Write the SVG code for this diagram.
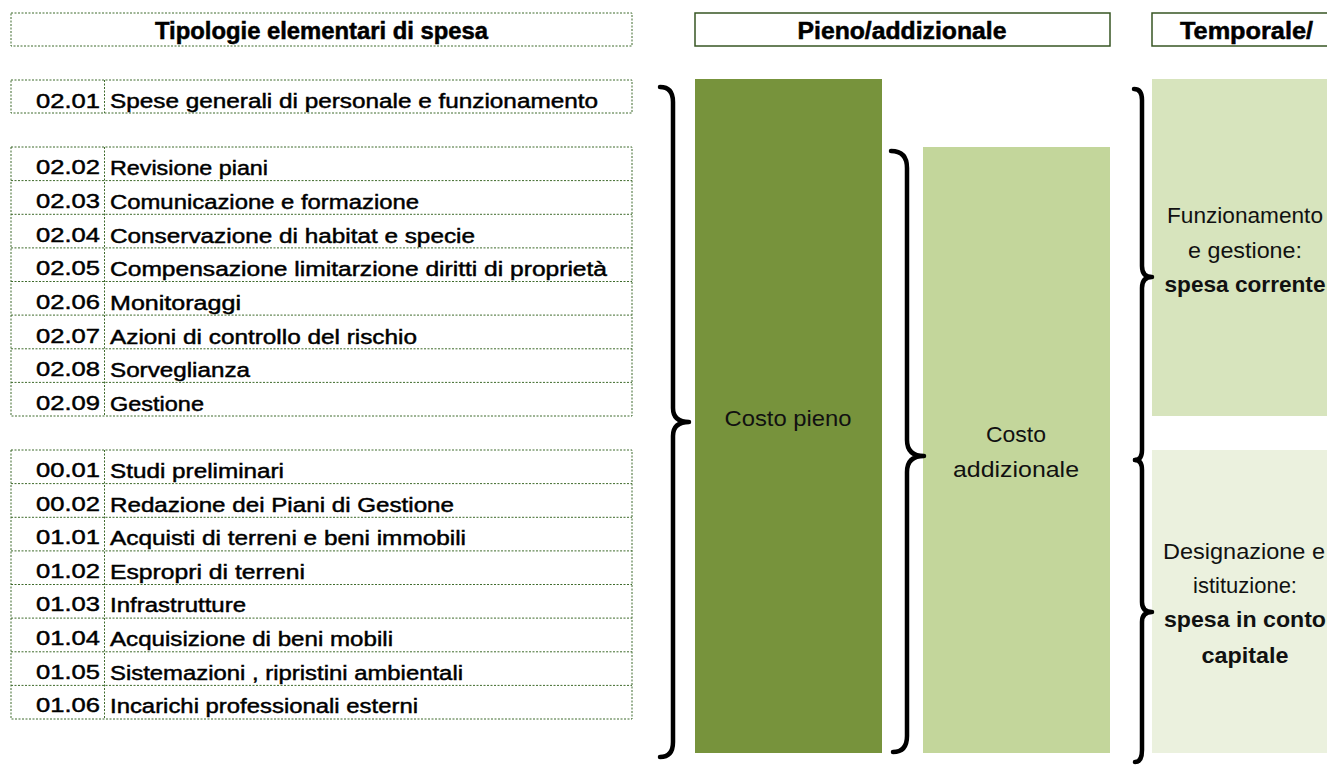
<svg xmlns="http://www.w3.org/2000/svg" width="1327" height="779" viewBox="0 0 1327 779">
<style>
.cell{fill:none;stroke:#3f6b2c;stroke-width:1;stroke-dasharray:2 1.5}
.hdr{fill:#fff;stroke:#375623;stroke-width:1.5}
.ht{font-family:"Liberation Sans",Arial,sans-serif;font-weight:bold;font-size:23px;fill:#000;stroke:#000;stroke-width:0.5;text-anchor:middle}
.num{font-family:"Liberation Sans",Arial,sans-serif;font-size:21px;fill:#000;stroke:#000;stroke-width:0.45;text-anchor:end}
.item{font-family:"Liberation Sans",Arial,sans-serif;font-size:20px;fill:#000;stroke:#000;stroke-width:0.45}
.bt{font-family:"Liberation Sans",Arial,sans-serif;font-size:22px;fill:#111;text-anchor:middle}
.bb{font-family:"Liberation Sans",Arial,sans-serif;font-size:22px;font-weight:bold;fill:#111;text-anchor:middle}
.brace{fill:none;stroke:#000;stroke-width:4.5;stroke-linecap:round;stroke-linejoin:round}
</style>
<rect width="1327" height="779" fill="#fff"/>

<g id="header-tipologie">
<rect class="cell" x="11" y="13" width="621" height="33"/>
<text class="ht" x="321.5" y="39" textLength="333" lengthAdjust="spacingAndGlyphs">Tipologie elementari di spesa</text>
</g>

<g id="row-0201">
<rect class="cell" x="11" y="80" width="621" height="33"/><line class="cell" x1="104.5" y1="80" x2="104.5" y2="113"/>
<text class="num" x="100" y="108" textLength="64" lengthAdjust="spacingAndGlyphs">02.01</text>
<text class="item" x="110" y="108" textLength="488" lengthAdjust="spacingAndGlyphs">Spese generali di personale e funzionamento</text>
</g>

<g id="group-02">
<rect class="cell" x="11" y="147" width="621" height="269"/>
<line class="cell" x1="104.5" y1="147" x2="104.5" y2="416"/>
<line class="cell" x1="11" y1="180.6" x2="632" y2="180.6"/>
<line class="cell" x1="11" y1="214.3" x2="632" y2="214.3"/>
<line class="cell" x1="11" y1="247.9" x2="632" y2="247.9"/>
<line class="cell" x1="11" y1="281.5" x2="632" y2="281.5"/>
<line class="cell" x1="11" y1="315.1" x2="632" y2="315.1"/>
<line class="cell" x1="11" y1="348.8" x2="632" y2="348.8"/>
<line class="cell" x1="11" y1="382.4" x2="632" y2="382.4"/>
<text class="num" x="100" y="174" textLength="64" lengthAdjust="spacingAndGlyphs">02.02</text>
<text class="item" x="110" y="175" textLength="158" lengthAdjust="spacingAndGlyphs">Revisione piani</text>
<text class="num" x="100" y="208" textLength="64" lengthAdjust="spacingAndGlyphs">02.03</text>
<text class="item" x="110" y="209" textLength="309" lengthAdjust="spacingAndGlyphs">Comunicazione e formazione</text>
<text class="num" x="100" y="242" textLength="64" lengthAdjust="spacingAndGlyphs">02.04</text>
<text class="item" x="110" y="243" textLength="365" lengthAdjust="spacingAndGlyphs">Conservazione di habitat e specie</text>
<text class="num" x="100" y="275" textLength="64" lengthAdjust="spacingAndGlyphs">02.05</text>
<text class="item" x="110" y="276" textLength="497" lengthAdjust="spacingAndGlyphs">Compensazione limitarzione diritti di proprietà</text>
<text class="num" x="100" y="309" textLength="64" lengthAdjust="spacingAndGlyphs">02.06</text>
<text class="item" x="110" y="310" textLength="131" lengthAdjust="spacingAndGlyphs">Monitoraggi</text>
<text class="num" x="100" y="343" textLength="64" lengthAdjust="spacingAndGlyphs">02.07</text>
<text class="item" x="110" y="344" textLength="307" lengthAdjust="spacingAndGlyphs">Azioni di controllo del rischio</text>
<text class="num" x="100" y="376" textLength="64" lengthAdjust="spacingAndGlyphs">02.08</text>
<text class="item" x="110" y="377" textLength="140" lengthAdjust="spacingAndGlyphs">Sorveglianza</text>
<text class="num" x="100" y="410" textLength="64" lengthAdjust="spacingAndGlyphs">02.09</text>
<text class="item" x="110" y="411" textLength="94" lengthAdjust="spacingAndGlyphs">Gestione</text>
</g>

<g id="group-00-01">
<rect class="cell" x="11" y="450" width="621" height="269"/>
<line class="cell" x1="104.5" y1="450" x2="104.5" y2="719"/>
<line class="cell" x1="11" y1="483.6" x2="632" y2="483.6"/>
<line class="cell" x1="11" y1="517.3" x2="632" y2="517.3"/>
<line class="cell" x1="11" y1="550.9" x2="632" y2="550.9"/>
<line class="cell" x1="11" y1="584.5" x2="632" y2="584.5"/>
<line class="cell" x1="11" y1="618.1" x2="632" y2="618.1"/>
<line class="cell" x1="11" y1="651.8" x2="632" y2="651.8"/>
<line class="cell" x1="11" y1="685.4" x2="632" y2="685.4"/>
<text class="num" x="100" y="477" textLength="64" lengthAdjust="spacingAndGlyphs">00.01</text>
<text class="item" x="110" y="478" textLength="174" lengthAdjust="spacingAndGlyphs">Studi preliminari</text>
<text class="num" x="100" y="511" textLength="64" lengthAdjust="spacingAndGlyphs">00.02</text>
<text class="item" x="110" y="512" textLength="344" lengthAdjust="spacingAndGlyphs">Redazione dei Piani di Gestione</text>
<text class="num" x="100" y="544" textLength="64" lengthAdjust="spacingAndGlyphs">01.01</text>
<text class="item" x="110" y="545" textLength="356" lengthAdjust="spacingAndGlyphs">Acquisti di terreni e beni immobili</text>
<text class="num" x="100" y="578" textLength="64" lengthAdjust="spacingAndGlyphs">01.02</text>
<text class="item" x="110" y="579" textLength="195" lengthAdjust="spacingAndGlyphs">Espropri di terreni</text>
<text class="num" x="100" y="611" textLength="64" lengthAdjust="spacingAndGlyphs">01.03</text>
<text class="item" x="110" y="612" textLength="136" lengthAdjust="spacingAndGlyphs">Infrastrutture</text>
<text class="num" x="100" y="645" textLength="64" lengthAdjust="spacingAndGlyphs">01.04</text>
<text class="item" x="110" y="646" textLength="283" lengthAdjust="spacingAndGlyphs">Acquisizione di beni mobili</text>
<text class="num" x="100" y="679" textLength="64" lengthAdjust="spacingAndGlyphs">01.05</text>
<text class="item" x="110" y="680" textLength="353" lengthAdjust="spacingAndGlyphs">Sistemazioni , ripristini ambientali</text>
<text class="num" x="100" y="712" textLength="64" lengthAdjust="spacingAndGlyphs">01.06</text>
<text class="item" x="110" y="713" textLength="308" lengthAdjust="spacingAndGlyphs">Incarichi professionali esterni</text>
</g>

<g id="header-pieno">
<rect class="hdr" x="695" y="13" width="415" height="33"/>
<text class="ht" x="902" y="39" textLength="209" lengthAdjust="spacingAndGlyphs">Pieno/addizionale</text>
</g>

<g id="header-temporale">
<rect class="hdr" x="1152" y="13" width="190" height="33"/>
<text class="ht" x="1246.5" y="39" textLength="133" lengthAdjust="spacingAndGlyphs">Temporale/</text>
</g>

<g id="costo-pieno">
<rect x="695" y="79" width="187" height="674" fill="#77933c"/>
<text class="bt" x="788" y="426" textLength="127" lengthAdjust="spacingAndGlyphs">Costo pieno</text>
</g>

<g id="costo-addizionale">
<rect x="923" y="147" width="187" height="606" fill="#c3d69b"/>
<text class="bt" x="1016" y="442" textLength="60" lengthAdjust="spacingAndGlyphs">Costo</text>
<text class="bt" x="1016" y="477" textLength="126" lengthAdjust="spacingAndGlyphs">addizionale</text>
</g>

<g id="spesa-corrente">
<rect x="1152" y="79" width="190" height="337" fill="#d7e4bd"/>
<text class="bt" x="1245" y="223" textLength="156" lengthAdjust="spacingAndGlyphs">Funzionamento</text>
<text class="bt" x="1245" y="258" textLength="114" lengthAdjust="spacingAndGlyphs">e gestione:</text>
<text class="bb" x="1245" y="292" textLength="161" lengthAdjust="spacingAndGlyphs">spesa corrente</text>
</g>

<g id="spesa-conto-capitale">
<rect x="1152" y="450" width="190" height="303" fill="#ebf1de"/>
<text class="bt" x="1244" y="559" textLength="162" lengthAdjust="spacingAndGlyphs">Designazione e</text>
<text class="bt" x="1245" y="593" textLength="104" lengthAdjust="spacingAndGlyphs">istituzione:</text>
<text class="bb" x="1245" y="627" textLength="162" lengthAdjust="spacingAndGlyphs">spesa in conto</text>
<text class="bb" x="1245" y="663" textLength="87" lengthAdjust="spacingAndGlyphs">capitale</text>
</g>

<g id="connectors">
<path class="brace" d="M660 87 Q673 87 673 102 L673 408 Q673 422 689 422 Q673 422 673 436 L673 742 Q673 757 660 757"/>
<path class="brace" d="M891 151 Q907 151 907 168 L907 440 Q907 456 924 456 Q907 456 907 472 L907 736 Q907 752 893 752"/>
<path class="brace" d="M1134 89 Q1142 89 1142 100 L1142 266 Q1142 277 1152 277 Q1142 277 1142 288 L1142 450 Q1142 460 1135 460"/>
<path class="brace" d="M1135 460 Q1142 460 1142 470 L1142 602 Q1142 612 1152 612 Q1142 612 1142 622 L1142 750 Q1142 762 1135 762"/>
</g>
</svg>
